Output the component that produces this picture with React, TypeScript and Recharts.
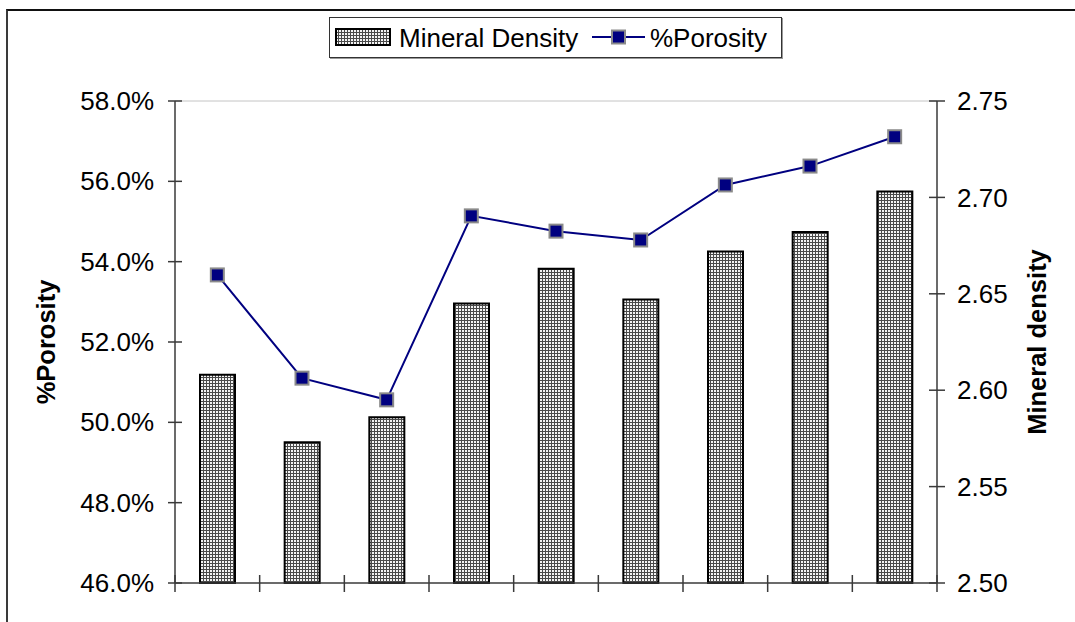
import React from "react";
import {
  ComposedChart,
  Bar,
  Line,
  XAxis,
  YAxis,
  ReferenceLine,
  Label,
} from "recharts";

// values
const samples = ["1", "2", "3", "4", "5", "6", "7", "8", "9"];
const mineralDensity = [2.608, 2.573, 2.586, 2.645, 2.663, 2.647, 2.672, 2.682, 2.703];
const porosity = [53.67, 51.1, 50.56, 55.14, 54.76, 54.54, 55.91, 56.38, 57.11];
const porosityTicks = [46, 48, 50, 52, 54, 56, 58];
const densityTicks = [2.5, 2.55, 2.6, 2.65, 2.7, 2.75];

const data = samples.map((name, i) => ({
  name,
  density: mineralDensity[i],
  porosity: porosity[i],
}));

const FONT = '"Liberation Sans", Arial, sans-serif';
const NAVY = "#000080";
const AXIS = "#3a3a3a";

// fine mesh fill like the Excel dotted pattern
const Dots = ({ id }: { id: string }) => (
  <pattern id={id} width="3" height="3" patternUnits="userSpaceOnUse">
    <rect width="3" height="3" fill="#4a4a4a" />
    <rect x="0" y="0" width="2" height="2" fill="#f4f4f4" />
  </pattern>
);

const LeftTick = ({ x, y, payload }: any) => (
  <g>
    <line x1={x - 7} x2={x + 7} y1={y} y2={y} stroke={AXIS} strokeWidth={1.5} />
    <text x={x - 21} y={y} dy="0.35em" textAnchor="end" fontSize={26} fontFamily={FONT} fill="#000">
      {payload.value.toFixed(1)}%
    </text>
  </g>
);

const RightTick = ({ x, y, payload }: any) => (
  <g>
    <line x1={x - 8} x2={x + 8} y1={y} y2={y} stroke={AXIS} strokeWidth={1.5} />
    <text x={x + 20} y={y} dy="0.35em" textAnchor="start" fontSize={26} fontFamily={FONT} fill="#000">
      {payload.value.toFixed(2)}
    </text>
  </g>
);

// Excel style: tick marks sit on the category boundaries, crossing the axis
const BottomTick = ({ x, y, payload, index }: any) => {
  const half = payload.offset ?? 762 / 18;
  return (
    <g>
      <line x1={x - half} x2={x - half} y1={y - 8} y2={y + 9} stroke={AXIS} strokeWidth={1.5} />
      {index === samples.length - 1 && (
        <line x1={x + half} x2={x + half} y1={y - 8} y2={y + 9} stroke={AXIS} strokeWidth={1.5} />
      )}
    </g>
  );
};

const Marker = ({ cx, cy }: any) => {
  if (cx == null || cy == null) return null;
  return (
    <rect x={cx - 6.5} y={cy - 6.5} width={13} height={13} fill={NAVY} stroke="#8a8a8a" strokeWidth={2} />
  );
};

const AxisTitle = (cx: number, cy: number, text: string) => (
  <text
    x={cx}
    y={cy}
    transform={`rotate(-90, ${cx}, ${cy})`}
    textAnchor="middle"
    dominantBaseline="central"
    fontSize={25.5}
    fontWeight="bold"
    fontFamily={FONT}
    fill="#000"
  >
    {text}
  </text>
);

function ChartLegend() {
  return (
    <div
      style={{
        position: "absolute",
        left: 329,
        top: 17,
        width: 451,
        height: 39,
        border: "1px solid #333",
        boxShadow: "1px 1px 0 #999",
        background: "#fff",
      }}
    >
      <svg width={451} height={39} style={{ position: "absolute", left: 0, top: 0 }}>
        <defs>
          <Dots id="legendDots" />
        </defs>
        <rect x={6} y={11} width={54} height={16} fill="url(#legendDots)" stroke="#000" strokeWidth={2} />
        <text x={69} y={20} dy="0.35em" fontSize={26} fontFamily={FONT}>
          Mineral Density
        </text>
        <line x1={262} x2={315} y1={19} y2={19} stroke={NAVY} strokeWidth={2} />
        <rect x={282} y={12.5} width={13} height={13} fill={NAVY} stroke="#8a8a8a" strokeWidth={2} />
        <text x={320} y={20} dy="0.35em" fontSize={26} fontFamily={FONT}>
          %Porosity
        </text>
      </svg>
    </div>
  );
}

export default function App() {
  return (
    <div style={{ position: "fixed", left: 0, top: 0, width: 1075, height: 622, overflow: "hidden", background: "#fff" }}>
      <div
        style={{
          position: "absolute",
          left: 6,
          top: 9,
          width: 1069,
          height: 613,
          borderTop: "2px solid #111",
          borderLeft: "2px solid #3a3a3a",
          boxSizing: "border-box",
        }}
      />
      <div style={{ position: "absolute", left: 0, top: 0 }}>
        <ComposedChart
          width={1075}
          height={622}
          data={data}
          margin={{ top: 101, right: 0, bottom: 19, left: 0 }}
          barSize={35}
        >
          <defs>
            <Dots id="barDots" />
          </defs>
          <XAxis
            dataKey="name"
            height={20}
            axisLine={{ stroke: AXIS, strokeWidth: 1.5 }}
            tickLine={false}
            tickSize={0}
            tickMargin={0}
            tick={<BottomTick />}
            interval={0}
          />
          <YAxis
            yAxisId="left"
            orientation="left"
            width={175}
            domain={[46, 58]}
            ticks={porosityTicks}
            interval={0}
            axisLine={{ stroke: AXIS, strokeWidth: 1.5 }}
            tickLine={false}
            tickSize={0}
            tickMargin={0}
            tick={<LeftTick />}
          >
            <Label content={({ viewBox }: any) => AxisTitle(viewBox.x + 46, viewBox.y + viewBox.height / 2, "%Porosity")} />
          </YAxis>
          <YAxis
            yAxisId="right"
            orientation="right"
            width={138}
            domain={[2.5, 2.75]}
            ticks={densityTicks}
            interval={0}
            axisLine={{ stroke: AXIS, strokeWidth: 1.5 }}
            tickLine={false}
            tickSize={0}
            tickMargin={0}
            tick={<RightTick />}
          >
            <Label content={({ viewBox }: any) => AxisTitle(viewBox.x + 100, viewBox.y + viewBox.height / 2, "Mineral density")} />
          </YAxis>
          <ReferenceLine yAxisId="left" y={58} stroke="#c4c4c4" strokeWidth={1} />
          <Bar
            yAxisId="right"
            dataKey="density"
            name="Mineral Density"
            fill="url(#barDots)"
            stroke="#000"
            strokeWidth={2}
            isAnimationActive={false}
          />
          <Line
            yAxisId="left"
            dataKey="porosity"
            name="%Porosity"
            type="linear"
            stroke={NAVY}
            strokeWidth={2}
            dot={<Marker />}
            activeDot={false}
            isAnimationActive={false}
          />
        </ComposedChart>
      </div>
      <ChartLegend />
    </div>
  );
}
